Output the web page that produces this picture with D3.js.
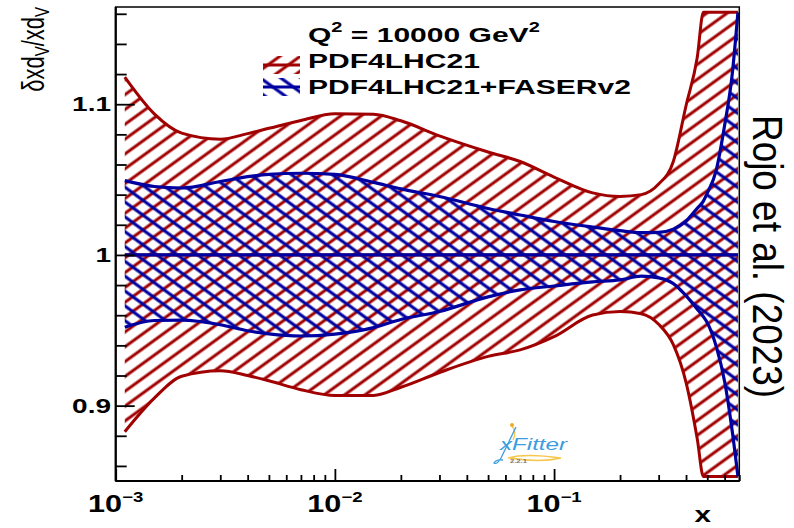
<!DOCTYPE html>
<html>
<head>
<meta charset="utf-8">
<script src="https://cdn.jsdelivr.net/npm/d3@7"></script>
<style>
  html, body { margin: 0; padding: 0; background: #fff; }
  svg { display: block; }
</style>
</head>
<body>
<svg id="chart" width="794" height="528"></svg>
<script>
// Bjorken-x grid shared by both uncertainty bands
const xGrid = [0.0011, 0.0015, 0.002, 0.003, 0.004, 0.005, 0.007, 0.01, 0.015, 0.02,
               0.03, 0.05, 0.07, 0.1, 0.15, 0.2, 0.25, 0.3, 0.35, 0.4,
               0.45, 0.48, 0.5, 0.55, 0.6, 0.65, 0.69];

// PDF4LHC21 relative uncertainty band (upper / lower edge), shown within the frame
const pdfUpper = [1.118, 1.0936, 1.0808, 1.0768, 1.0805, 1.084, 1.0892, 1.0937, 1.0933, 1.089,
                  1.079, 1.0683, 1.062, 1.0517, 1.0412, 1.0388, 1.040, 1.047, 1.062, 1.099,
                  1.131, 1.161, 1.161, 1.161, 1.161, 1.161, 1.161];
const pdfLower = [0.8827, 0.905, 0.9195, 0.9232, 0.920, 0.9165, 0.9106, 0.9067, 0.9068, 0.9122,
                  0.922, 0.9327, 0.937, 0.9458, 0.9601, 0.9624, 0.961, 0.954, 0.9405, 0.9155,
                  0.878, 0.853, 0.853, 0.853, 0.853, 0.853, 0.853];

// PDF4LHC21+FASERv2 relative uncertainty band
const faserUpper = [1.0493, 1.0454, 1.0444, 1.0487, 1.0519, 1.0535, 1.0542, 1.0534, 1.0481, 1.0438,
                    1.0388, 1.0308, 1.0265, 1.0222, 1.0185, 1.0161, 1.0148, 1.015, 1.0171, 1.0225,
                    1.031, 1.0357, 1.041, 1.0565, 1.086, 1.12, 1.161];
const faserLower = [0.952, 0.9565, 0.9567, 0.9537, 0.9497, 0.9476, 0.9462, 0.9475, 0.9518, 0.9572,
                    0.9625, 0.9722, 0.9768, 0.9794, 0.9821, 0.9834, 0.9859, 0.9848, 0.981, 0.973,
                    0.964, 0.959, 0.955, 0.939, 0.916, 0.883, 0.853];

// Central value (ratio to itself)
const central = xGrid.map(() => 1);

// Axis ticks and labels
const xDecades = [1e-3, 1e-2, 1e-1];
const xExponents = ["\u22123", "\u22122", "\u22121"];
const yMajor = [0.9, 1.0, 1.1];
const yLabels = ["0.9", "1", "1.1"];

const seriesNames = ["PDF4LHC21", "PDF4LHC21+FASERv2"];
const scaleLabel = "Q";
const authorNote = "Rojo et al. (2023)";

const red = "#a00000";
const blue = "#0000a0";
const FONT = "'Liberation Sans', Arial, Helvetica, sans-serif";

const frame = { left: 115.7, right: 739.3, top: 7, bottom: 481 };

const svg = d3.select("#chart");
const x = d3.scaleLog().domain([1e-3, 0.7]).range([frame.left, frame.right]);
const y = d3.scaleLinear().domain([0.85, 1.1645]).range([frame.bottom, frame.top]);

// Hatch patterns
const defs = svg.append("defs");
function hatch(id, color, angle, width) {
  const p = defs.append("pattern")
    .attr("id", id)
    .attr("patternUnits", "userSpaceOnUse")
    .attr("width", 12).attr("height", 12)
    .attr("patternTransform", `rotate(${angle})`);
  p.append("line")
    .attr("x1", -2).attr("x2", 14).attr("y1", 6).attr("y2", 6)
    .attr("stroke", color).attr("stroke-width", width);
}
hatch("hatchRed", red, -36, 3);
hatch("hatchBlue", blue, 36, 3.1);

defs.append("clipPath").attr("id", "plotClip")
  .append("rect")
  .attr("x", frame.left).attr("y", frame.top)
  .attr("width", frame.right - frame.left).attr("height", frame.bottom - frame.top);

const rowsPdf = xGrid.map((v, i) => ({ x: v, lo: pdfLower[i], hi: pdfUpper[i], c: central[i] }));
const rowsFaser = xGrid.map((v, i) => ({ x: v, lo: faserLower[i], hi: faserUpper[i], c: central[i] }));

const curve = d3.curveMonotoneX;
const band = d3.area().curve(curve).x(d => x(d.x)).y0(d => y(d.lo)).y1(d => y(d.hi));
const edge = key => d3.line().curve(curve).x(d => x(d.x)).y(d => y(d[key]));

const plot = svg.append("g").attr("clip-path", "url(#plotClip)");

plot.append("path").datum(rowsPdf).attr("d", band).attr("fill", "url(#hatchRed)");
plot.append("path").datum(rowsFaser).attr("d", band).attr("fill", "url(#hatchBlue)");

["hi", "lo", "c"].forEach(k => {
  plot.append("path").datum(rowsPdf).attr("d", edge(k))
    .attr("fill", "none").attr("stroke", red).attr("stroke-width", 3);
});
["hi", "lo", "c"].forEach(k => {
  plot.append("path").datum(rowsFaser).attr("d", edge(k))
    .attr("fill", "none").attr("stroke", blue).attr("stroke-width", 3.2);
});

// Axes: ticks point into the frame
function styleAxis(g) {
  g.select(".domain").remove();
  g.selectAll(".tick line").attr("stroke", "#000").attr("stroke-width", 1.8);
  g.selectAll(".tick text").remove();
}
const xMinor = x.ticks().filter(v => !xDecades.some(d => Math.abs(d - v) / d < 1e-6));
svg.append("g").attr("transform", `translate(0,${frame.bottom})`)
  .call(d3.axisBottom(x).tickValues(xDecades).tickSize(-12).tickFormat(""))
  .call(styleAxis);
svg.append("g").attr("transform", `translate(0,${frame.bottom})`)
  .call(d3.axisBottom(x).tickValues(xMinor).tickSize(-6).tickFormat(""))
  .call(styleAxis);

const yMinor = y.ticks(16).filter(v => !yMajor.some(m => Math.abs(m - v) < 1e-6));
svg.append("g").attr("transform", `translate(${frame.left},0)`)
  .call(d3.axisLeft(y).tickValues(yMajor).tickSize(-19).tickFormat(""))
  .call(styleAxis);
svg.append("g").attr("transform", `translate(${frame.left},0)`)
  .call(d3.axisLeft(y).tickValues(yMinor).tickSize(-11).tickFormat(""))
  .call(styleAxis);

// Frame
svg.append("rect")
  .attr("x", frame.left).attr("y", frame.top)
  .attr("width", frame.right - frame.left).attr("height", frame.bottom - frame.top)
  .attr("fill", "none").attr("stroke", "#000").attr("stroke-width", 1.5);
svg.append("line").attr("x1", frame.left).attr("x2", frame.left)
  .attr("y1", frame.top).attr("y2", frame.bottom).attr("stroke", "#000").attr("stroke-width", 2.2);
svg.append("line").attr("x1", frame.left).attr("x2", frame.right)
  .attr("y1", frame.bottom).attr("y2", frame.bottom).attr("stroke", "#000").attr("stroke-width", 2.2);

// Wide (horizontally stretched) text helper
function wideText(tx, ty, sx, anchor, size, weight) {
  const g = svg.append("g").attr("transform", `translate(${tx},${ty}) scale(${sx},1)`);
  return g.append("text")
    .attr("text-anchor", anchor)
    .attr("font-family", FONT)
    .attr("font-size", size)
    .attr("font-weight", weight)
    .attr("fill", "#000");
}

// Y tick labels
yMajor.forEach((v, i) => {
  wideText(111, y(v) + 7.2, 1.4, "end", 20, "bold").text(yLabels[i]);
});

// X tick labels (powers of ten)
xDecades.forEach((v, i) => {
  const t = wideText(x(v), 511.7, 1.33, "middle", 23, "bold");
  t.append("tspan").text("10");
  t.append("tspan").attr("dy", -10).attr("font-size", 14).text(xExponents[i]);
});

// Axis titles
wideText(711, 522, 1.35, "end", 22, "bold").text("x");

const yt = svg.append("text")
  .attr("transform", `translate(43.5,${frame.top}) scale(1.4,1) rotate(-90)`)
  .attr("text-anchor", "end")
  .attr("font-family", FONT)
  .attr("font-size", 22)
  .attr("fill", "#000");
yt.append("tspan").text("\u03b4xd");
yt.append("tspan").attr("font-size", 15).attr("dy", 4).text("V");
yt.append("tspan").attr("dy", -4).text("/xd");
yt.append("tspan").attr("font-size", 15).attr("dy", 4).text("V");

// Legend
const q = wideText(308, 42, 1.43, "start", 21, "bold");
q.append("tspan").text(scaleLabel);
q.append("tspan").attr("font-size", 14).attr("dy", -10).text("2");
q.append("tspan").attr("dy", 10).text(" = 10000 GeV");
q.append("tspan").attr("font-size", 14).attr("dy", -10).text("2");

const legendRows = [
  { name: seriesNames[0], color: red, pattern: "hatchRed", cy: 65, base: 68 },
  { name: seriesNames[1], color: blue, pattern: "hatchBlue", cy: 87, base: 94 }
];
legendRows.forEach(r => {
  svg.append("rect")
    .attr("x", 263).attr("y", r.cy - 9).attr("width", 37).attr("height", 18)
    .attr("fill", `url(#${r.pattern})`);
  svg.append("line")
    .attr("x1", 263).attr("x2", 300).attr("y1", r.cy).attr("y2", r.cy)
    .attr("stroke", r.color).attr("stroke-width", 3);
  wideText(308, r.base, 1.43, "start", 21, "bold").text(r.name);
});

// Author note on the right
svg.append("text")
  .attr("transform", "translate(753,115) rotate(90)")
  .attr("text-anchor", "start")
  .attr("font-family", FONT)
  .attr("font-size", 42)
  .attr("textLength", 283)
  .attr("lengthAdjust", "spacingAndGlyphs")
  .attr("fill", "#000")
  .text(authorNote);

// xFitter logo
const logo = svg.append("g").attr("transform", "translate(495,420)");
logo.append("path")
  .attr("d", "M13,38 Q30,33 66,38 Q45,43 15,38")
  .attr("fill", "none").attr("stroke", "#f6c74a").attr("stroke-width", 1.4);
logo.append("path")
  .attr("d", "M17,6 Q22,12 18,20")
  .attr("fill", "none").attr("stroke", "#f6c74a").attr("stroke-width", 1.4);
logo.append("circle").attr("cx", 17).attr("cy", 5).attr("r", 2).attr("fill", "#f3a72b");
logo.append("path")
  .attr("d", "M21,7 L6,38 Q2,45 -1,43 Q1,39 8,40")
  .attr("fill", "none").attr("stroke", "#3b9ddd").attr("stroke-width", 1.3);
logo.append("text")
  .attr("x", 5).attr("y", 30)
  .attr("font-family", FONT).attr("font-style", "italic")
  .attr("font-size", 17).attr("textLength", 67).attr("lengthAdjust", "spacingAndGlyphs")
  .attr("fill", "#3b9ddd").text("xFitter");
logo.append("text")
  .attr("x", 15).attr("y", 43)
  .attr("font-family", FONT).attr("font-weight", "bold")
  .attr("font-size", 6).attr("textLength", 17).attr("lengthAdjust", "spacingAndGlyphs")
  .attr("fill", "#777").text("2.2.1");
</script>
</body>
</html>
